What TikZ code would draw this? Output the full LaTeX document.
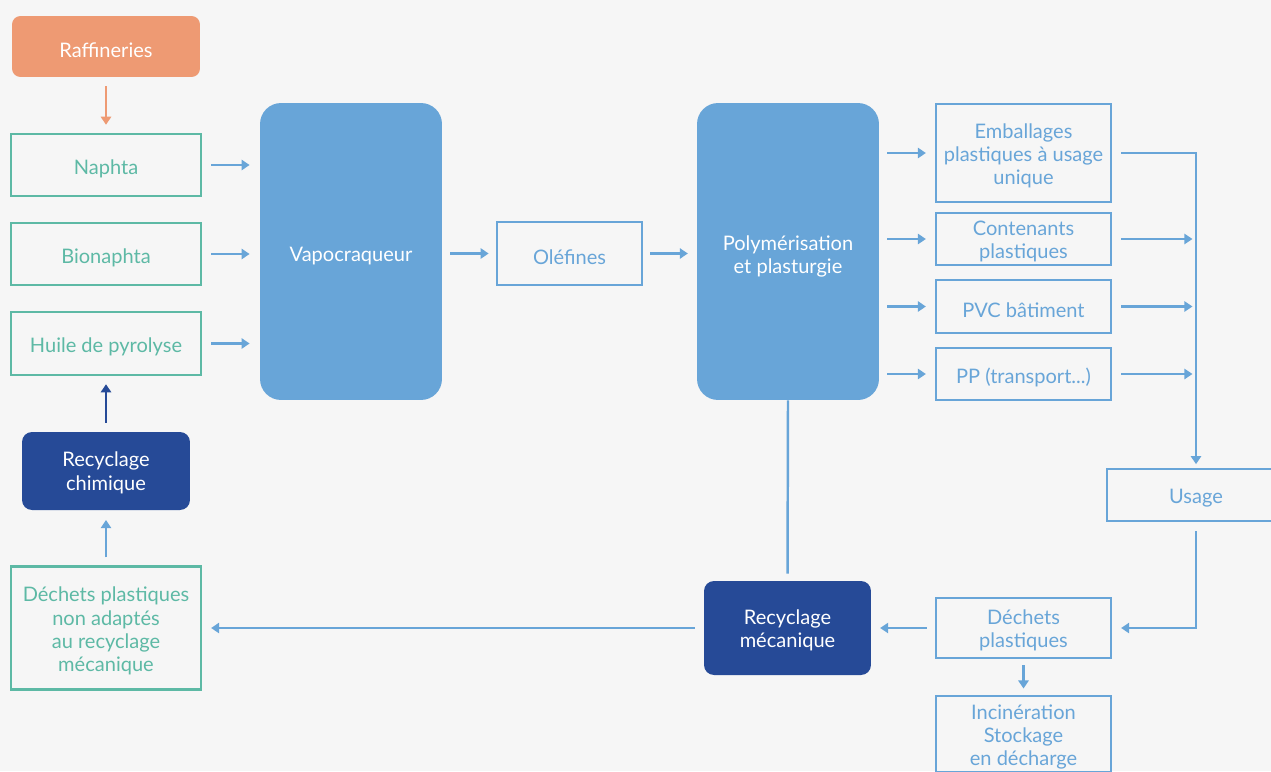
\documentclass[tikz,border=0pt]{standalone}
\usepackage{fontspec}
\setmainfont{Lato}
\usetikzlibrary{arrows.meta,positioning}
\definecolor{bg}{HTML}{F6F6F6}
\definecolor{teal}{HTML}{5DB9A5}
\definecolor{lblue}{HTML}{68A5D8}
\definecolor{navy}{HTML}{264A97}
\definecolor{orange}{HTML}{EE9A73}
\newcommand\fl[1][12.3pt]{\rule{0pt}{#1}}
\tikzset{
  txt/.style={font=\fontsize{11.4pt}{13.2pt}\selectfont, align=center, inner sep=0pt},
  tealbox/.style={txt, draw=teal, line width=1.5pt, text=teal, fill=bg},
  bluebox/.style={txt, draw=lblue, line width=1.5pt, text=lblue, fill=bg},
  bigbox/.style={txt, fill=lblue, text=white, rounded corners=0.42cm, minimum width=3.64cm, minimum height=5.94cm},
  navybox/.style={txt, fill=navy, text=white, rounded corners=0.2cm},
  arr/.style={-{Triangle[length=4.6pt,width=5.8pt]}, line width=1.4pt, draw=lblue},
}
\begin{document}
\begin{tikzpicture}[x=0.02cm,y=-0.02cm]
\useasboundingbox (0,0) rectangle (1271,771);
\clip (0,0) rectangle (1271,771);
\fill[bg] (0,0) rectangle (1271,771);

\node[txt, fill=orange, text=white, rounded corners=0.17cm, minimum width=3.76cm, minimum height=1.22cm] (raf) at (106,46.5) {\fl Raffineries};
\node[tealbox, minimum width=3.8cm, minimum height=1.24cm] (nap) at (106,165) {\fl Naphta};
\node[tealbox, minimum width=3.8cm, minimum height=1.24cm] (bio) at (106,254) {\fl Bionaphta};
\node[tealbox, minimum width=3.8cm, minimum height=1.26cm] (hui) at (106,343.5) {\fl Huile de pyrolyse};
\node[navybox, minimum width=3.36cm, minimum height=1.56cm] (rch) at (106,471) {\fl[10.5pt]Recyclage\\chimique};
\node[tealbox, minimum width=3.8cm, minimum height=2.46cm] (dna) at (106,628) {\fl[11.8pt]Déchets plastiques\\non adaptés\\au recyclage\\mécanique};

\node[bigbox] (vap) at (351,251.5) {\fl[13pt]Vapocraqueur};
\node[bluebox, minimum width=2.9cm, minimum height=1.26cm] (ole) at (569.5,253.5) {\fl Oléfines};
\node[bigbox] (pol) at (788,251.5) {\fl[14pt]Polymérisation\\et plasturgie};

\node[bluebox, minimum width=3.5cm, minimum height=1.96cm] (emb) at (1023.5,153) {\fl[11.5pt]Emballages\\plastiques à usage\\unique};
\node[bluebox, minimum width=3.5cm, minimum height=1.04cm] (con) at (1023.5,239) {\fl[11pt]Contenants\\plastiques};
\node[bluebox, minimum width=3.5cm, minimum height=1.06cm] (pvc) at (1023.5,306.5) {\fl PVC bâtiment};
\node[bluebox, minimum width=3.5cm, minimum height=1.04cm] (pp) at (1023.5,374) {\fl PP (transport...)};
\node[bluebox, minimum width=3.56cm, minimum height=1.04cm] (usa) at (1196,495) {\fl Usage};
\node[bluebox, minimum width=3.5cm, minimum height=1.2cm] (dec) at (1023.5,628) {\fl[11pt]Déchets\\plastiques};
\node[bluebox, minimum width=3.5cm, minimum height=1.52cm] (inc) at (1023.5,734) {\fl[11.5pt]Incinération\\Stockage\\en décharge};
\node[navybox, minimum width=3.34cm, minimum height=1.88cm] (rme) at (787.5,628) {\fl[11.5pt]Recyclage\\mécanique};

% connectors
\draw[arr, draw=orange, shorten <=5pt, shorten >=4.5pt] (raf) -- (nap);
\foreach \s in {nap,bio,hui}
  \draw[arr, shorten <=5pt, shorten >=5.7pt] (\s.east) -- (\s.east -| vap.west);
\draw[arr, shorten <=4.5pt, shorten >=4pt] (vap.east |- ole.west) -- (ole.west);
\draw[arr, shorten <=4pt, shorten >=5pt] (ole.east) -- (ole.east -| pol.west);
\foreach \s in {emb,con,pvc,pp}
  \draw[arr, shorten <=4.5pt, shorten >=5pt] (pol.east |- \s.west) -- (\s.west);
\draw[arr, shorten <=5pt, shorten >=2pt] (emb.east) -| (usa.north);
\foreach \s in {con,pvc,pp}
  \draw[arr, shorten <=5pt, shorten >=2pt] (\s.east) -- (\s.east -| usa.north);
\draw[arr, shorten <=5pt, shorten >=5pt] (usa.south) |- (dec.east);
\draw[arr, shorten <=3.5pt, shorten >=3.5pt] (dec.south) -- (inc.north);
\draw[arr, shorten <=4.5pt, shorten >=5pt] (dec.west) -- (rme.east);
\draw[line width=1.4pt, lblue, shorten >=4pt] (pol.south) -- (rme.north);
\draw[arr, shorten <=5pt, shorten >=5pt] (rme.west) -- (rme.west -| dna.east);
\draw[arr, shorten <=4.5pt, shorten >=5.5pt] (dna.north) -- (rch.south);
\draw[arr, draw=navy, shorten <=5pt, shorten >=4.5pt] (rch.north) -- (hui.south);
\end{tikzpicture}
\end{document}
